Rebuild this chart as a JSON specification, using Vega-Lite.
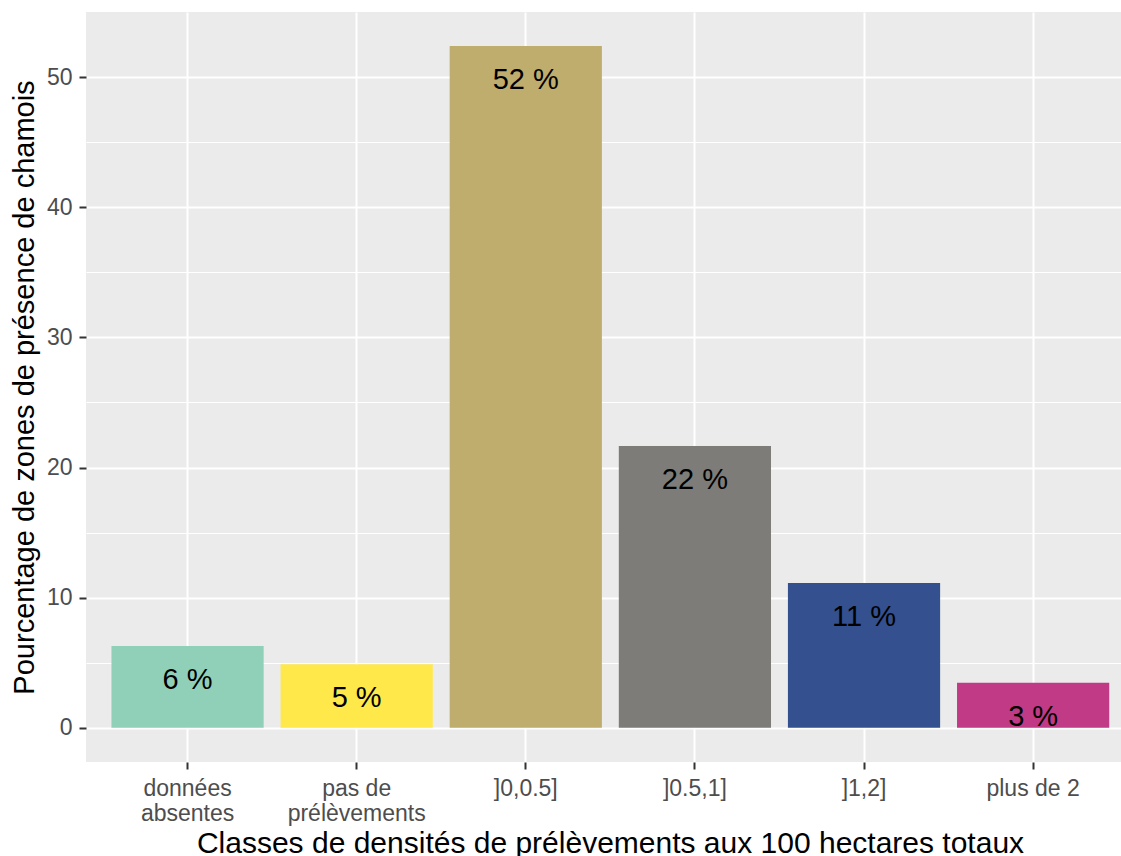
{
  "$schema": "https://vega.github.io/schema/vega-lite/v6.json",
  "width": 1035,
  "height": 750,
  "autosize": {"type": "none"},
  "padding": {"left": 86, "top": 12, "right": 0, "bottom": 94},
  "background": "white",
  "config": {
    "view": {"fill": "#EBEBEB", "stroke": null},
    "font": "Liberation Sans"
  },
  "data": {
    "values": [
      {"classe": "données absentes", "pct": 6.28, "label": "6 %"},
      {"classe": "pas de prélèvements", "pct": 4.87, "label": "5 %"},
      {"classe": "]0,0.5]", "pct": 52.4, "label": "52 %"},
      {"classe": "]0.5,1]", "pct": 21.65, "label": "22 %"},
      {"classe": "]1,2]", "pct": 11.12, "label": "11 %"},
      {"classe": "plus de 2", "pct": 3.46, "label": "3 %"}
    ]
  },
  "encoding": {
    "x": {
      "field": "classe",
      "type": "nominal",
      "sort": null,
      "scale": {"paddingInner": 0.1, "paddingOuter": 0.11, "align": 0.684},
      "axis": {
        "title": "Classes de densités de prélèvements aux 100 hectares totaux",
        "titleFontSize": 30,
        "titleFontWeight": "normal",
        "titleColor": "black",
        "titleX": 524,
        "titlePadding": 3,
        "labelAngle": 0,
        "labelFontSize": 23,
        "labelColor": "#4D4D4D",
        "labelLineHeight": 25,
        "labelPadding": 8,
        "labelExpr": "datum.value == 'données absentes' ? ['données','absentes'] : datum.value == 'pas de prélèvements' ? ['pas de','prélèvements'] : datum.label",
        "tickColor": "#333333",
        "tickWidth": 2,
        "tickSize": 7,
        "grid": true,
        "gridColor": "white",
        "gridWidth": 2,
        "domain": false
      }
    },
    "y": {
      "field": "pct",
      "type": "quantitative",
      "scale": {"domain": [-2.64, 55.02], "nice": false, "zero": false},
      "axis": {
        "title": "Pourcentage de zones de présence de chamois",
        "titleFontSize": 29,
        "titleFontWeight": "normal",
        "titleColor": "black",
        "titlePadding": 7,
        "values": [0, 5, 10, 15, 20, 25, 30, 35, 40, 45, 50],
        "labelExpr": "datum.value % 10 == 0 ? datum.label : ''",
        "labelFontSize": 23,
        "labelColor": "#4D4D4D",
        "labelPadding": 7,
        "tickColor": "#333333",
        "tickWidth": 2,
        "tickSize": 7,
        "tickOpacity": {"condition": {"test": "datum.value % 10 != 0", "value": 0}, "value": 1},
        "grid": true,
        "gridColor": "white",
        "gridWidth": {"condition": {"test": "datum.value % 10 != 0", "value": 1}, "value": 2},
        "domain": false
      }
    }
  },
  "layer": [
    {
      "mark": {"type": "bar"},
      "encoding": {
        "y2": {"datum": 0},
        "color": {
          "field": "classe",
          "type": "nominal",
          "scale": {
            "domain": ["données absentes", "pas de prélèvements", "]0,0.5]", "]0.5,1]", "]1,2]", "plus de 2"],
            "range": ["#91D0B8", "#FFE94A", "#BFAD6D", "#7E7C78", "#34508F", "#C13A85"]
          },
          "legend": null
        }
      }
    },
    {
      "mark": {"type": "text", "baseline": "middle", "dy": 34, "fontSize": 29, "color": "black"},
      "encoding": {
        "text": {"field": "label"}
      }
    }
  ]
}
